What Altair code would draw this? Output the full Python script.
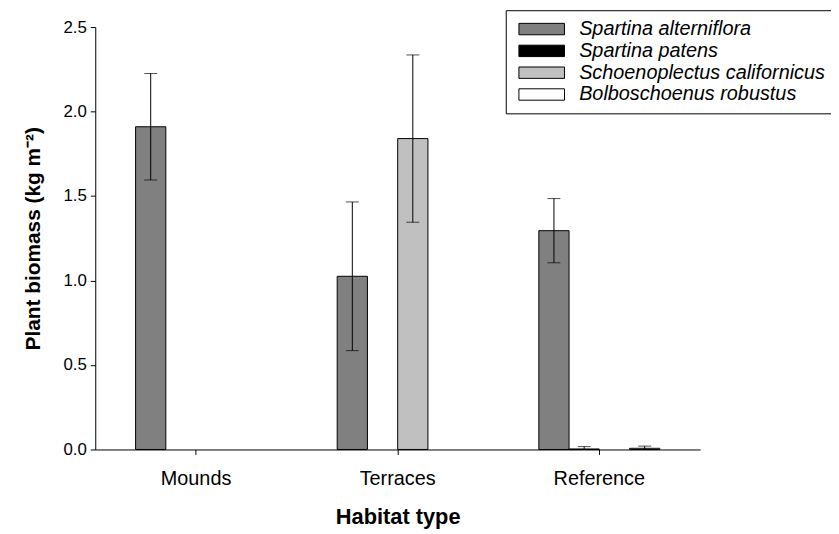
import altair as alt
import pandas as pd

habitats = ["Mounds", "Terraces", "Reference"]
species = ["Spartina alterniflora", "Spartina patens",
           "Schoenoplectus californicus", "Bolboschoenus robustus"]
species_colors = ["#808080", "#000000", "#c0c0c0", "#ffffff"]

bar_habitat = ["Mounds", "Terraces", "Terraces", "Reference", "Reference", "Reference"]
bar_species = ["Spartina alterniflora", "Spartina alterniflora", "Schoenoplectus californicus",
               "Spartina alterniflora", "Spartina patens", "Bolboschoenus robustus"]
biomass_mean = [1.91, 1.025, 1.84, 1.295, 0.003, 0.007]
biomass_err = [0.315, 0.44, 0.495, 0.19, 0.014, 0.013]

y_ticks = [0.0, 0.5, 1.0, 1.5, 2.0, 2.5]

df = pd.DataFrame({
    "habitat": bar_habitat,
    "species": bar_species,
    "mean": biomass_mean,
    "err": biomass_err,
})
df["lo"] = (df["mean"] - df["err"]).clip(lower=0)
df["hi"] = df["mean"] + df["err"]

FONT = "Liberation Sans"

x_scale = alt.Scale(domain=habitats, paddingInner=0.4, paddingOuter=0.2)
x_ax = alt.Axis(title="Habitat type", labelAngle=0, tickSize=5, grid=False,
                domainColor="black", tickColor="black", labelColor="black", titleColor="black",
                labelFont=FONT, titleFont=FONT,
                labelFontSize=20, labelPadding=14, titlePadding=19,
                titleFontSize=22, titleFontWeight="bold")
y_ax = alt.Axis(title="Plant biomass (kg m⁻²)", values=y_ticks, format=".1f",
                tickSize=5, grid=False,
                domainColor="black", tickColor="black", labelColor="black", titleColor="black",
                labelFont=FONT, titleFont=FONT,
                labelFontSize=17, labelPadding=4,
                titleFontSize=21, titleFontWeight="bold", titlePadding=20)
x_enc = alt.X("habitat:N", sort=habitats, scale=x_scale, axis=x_ax)
xo_enc = alt.XOffset("species:N", sort=species,
                     scale=alt.Scale(domain=species, paddingInner=0, paddingOuter=0))
y_scale = alt.Scale(domain=[0, 2.5], nice=False)

base = alt.Chart(df).encode(x=x_enc, xOffset=xo_enc)

bars = base.mark_bar(stroke="black", strokeWidth=1).encode(
    y=alt.Y("mean:Q", scale=y_scale, axis=y_ax),
    fill=alt.Fill("species:N", scale=alt.Scale(domain=species, range=species_colors),
                  legend=alt.Legend(title=None, orient="none", legendX=414, legendY=-17,
                                    strokeColor="black", fillColor="white", padding=9,
                                    symbolType="M-1,-1H7V1H-1Z", symbolSize=132,
                                    symbolStrokeColor="black", symbolStrokeWidth=1,
                                    symbolOpacity=1, labelFont=FONT,
                                    labelFontSize=20, labelFontStyle="italic",
                                    labelOffset=45, rowPadding=2, labelColor="black",
                                    labelLimit=400)),
)

rules = base.mark_rule(color="black", strokeWidth=1).encode(
    y=alt.Y("lo:Q", scale=y_scale, axis=y_ax), y2="hi:Q")
cap_hi = base.mark_tick(color="black", size=13, thickness=1).encode(
    y=alt.Y("hi:Q", scale=y_scale, axis=y_ax))
cap_lo = base.mark_tick(color="black", size=13, thickness=1).encode(
    y=alt.Y("lo:Q", scale=y_scale, axis=y_ax))

chart = alt.layer(bars, rules, cap_hi, cap_lo).properties(
    width=610, height=426,
    padding={"left": 88, "top": 17, "right": 132, "bottom": 83},
    autosize=alt.AutoSizeParams(type="none"),
).configure(
    font=FONT, background="white",
    view=alt.ViewConfig(stroke="transparent", strokeWidth=0),
    axis=alt.AxisConfig(grid=False),
)

chart.save("out.html", embed_options={"renderer": "svg", "actions": False})
